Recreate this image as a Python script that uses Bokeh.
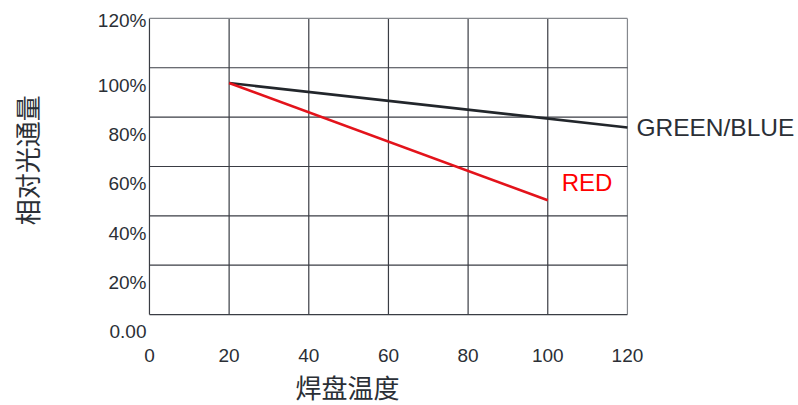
import math
from bokeh.plotting import figure
from bokeh.models import Range1d, FixedTicker, Label, Title
from bokeh.core.properties import value
from bokeh.embed import file_html
from bokeh.resources import INLINE

# ---- data ----
x_ticks = [0, 20, 40, 60, 80, 100, 120]
y_ticks = [0, 20, 40, 60, 80, 100, 120]
y_tick_labels = ["0.00", "20%", "40%", "60%", "80%", "100%", "120%"]

gb_temp = [20, 120]
gb_flux = [93.8, 75.8]
red_temp = [20, 100]
red_flux = [93.8, 46.3]

x_title = "焊盘温度"
y_title = "相对光通量"
gb_name = "GREEN/BLUE"
red_name = "RED"

# ---- style constants ----
LABEL_SHIFT = 7          # tick labels sit below their grid lines (in % units)
TOP_LABEL_SHIFT = 1
DARK = "#2b2f36"
GRID_DARK = "#3a3d44"
GRID_EDGE = "#85888d"
FONT = "Liberation Sans"
CJK = "Noto Sans CJK SC"

# frame spans most of the canvas so that side texts are not clipped
p = figure(width=798, height=405, output_backend="svg", toolbar_location=None,
           x_range=Range1d(-37.4, 162.7), y_range=Range1d(-10.5, 127.25),
           min_border_left=0, min_border_top=0, min_border_right=1,
           min_border_bottom=63)
p.outline_line_color = None
p.background_fill_color = "white"
p.border_fill_color = "white"
p.xgrid.visible = False
p.ygrid.visible = False
p.yaxis.visible = False

# grid lines (bounded to the 0..120 box), built from the tick lists
nx, ny = len(x_ticks), len(y_ticks)
p.segment(x0=x_ticks, y0=[y_ticks[0]] * nx, x1=x_ticks, y1=[y_ticks[-1]] * nx,
          line_color=[GRID_DARK] * (nx - 1) + [GRID_EDGE], line_width=1.2)
p.segment(x0=[x_ticks[0]] * ny, y0=y_ticks, x1=[x_ticks[-1]] * ny, y1=y_ticks,
          line_color=[GRID_DARK] * (ny - 1) + [GRID_EDGE], line_width=1.2)

# y tick labels: drawn slightly below their grid lines, as in the source
label_pos = [v - LABEL_SHIFT for v in y_ticks[:-1]] + [y_ticks[-1] - TOP_LABEL_SHIFT]
p.text(x=[x_ticks[0]] * ny, y=label_pos, text=y_tick_labels, x_offset=-3,
       text_align="right", text_baseline="middle", text_font=value(FONT),
       text_font_size="19px", text_color=DARK)

xax = p.xaxis[0]
xax.ticker = FixedTicker(ticks=x_ticks)
xax.axis_line_color = None
xax.major_tick_line_color = None
xax.minor_tick_line_color = None
xax.major_label_standoff = 2
xax.major_label_text_font = FONT
xax.major_label_text_font_size = "19px"
xax.major_label_text_color = DARK

p.add_layout(Title(text=x_title, align="left", offset=295, standoff=2,
                   text_font=CJK, text_font_size="26px", text_font_style="normal",
                   text_color=DARK), "below")

# y axis title
p.add_layout(Label(x=-30.8, y=62.5, text=y_title, angle=math.pi / 2,
                   text_font=CJK, text_font_size="26px", text_color=DARK,
                   text_align="center", text_baseline="middle"))

# data lines
p.line(gb_temp, gb_flux, line_color="#22262b", line_width=2.6)
p.line(red_temp, red_flux, line_color="#e3131b", line_width=2.6)

# series labels
p.add_layout(Label(x=gb_temp[-1], y=gb_flux[-1], x_offset=9, text=gb_name,
                   text_font=FONT, text_font_size="24.5px", text_color=DARK,
                   text_baseline="middle", text_align="left"))
p.add_layout(Label(x=red_temp[-1], y=red_flux[-1], x_offset=14, y_offset=18,
                   text=red_name, text_font=FONT, text_font_size="24px",
                   text_color="#ff0000", text_baseline="middle", text_align="left"))

open("out.html", "w").write(file_html(p, INLINE))
